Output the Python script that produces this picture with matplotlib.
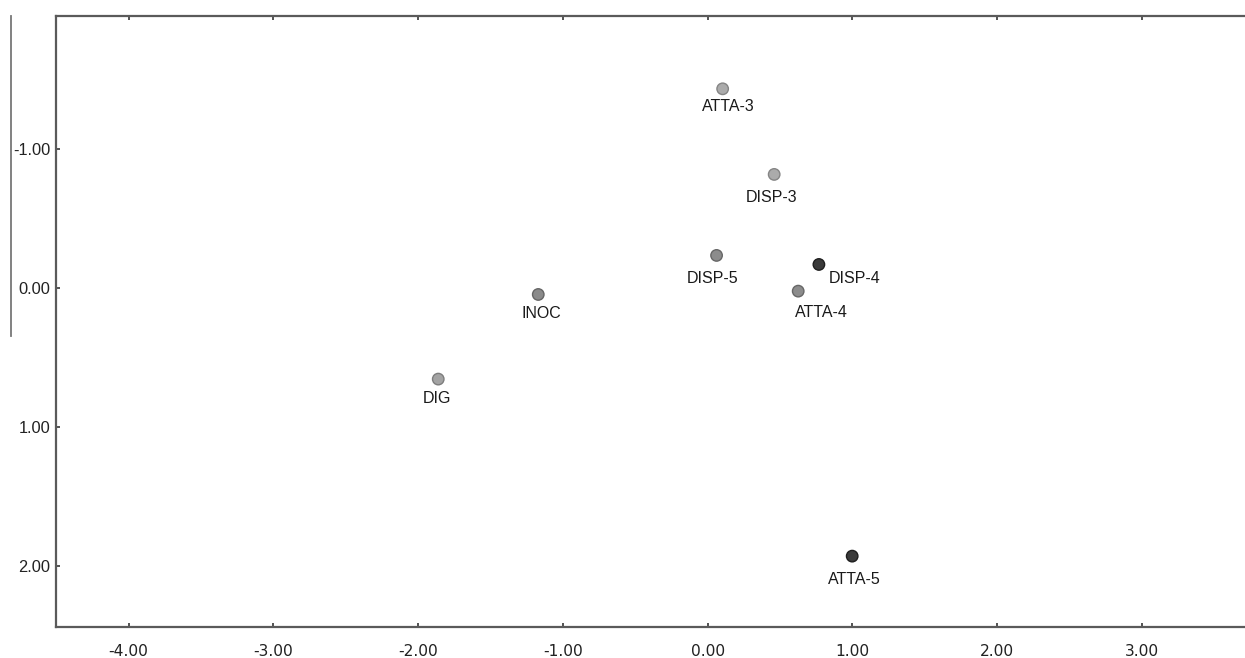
import matplotlib
matplotlib.use("Agg")
import matplotlib.pyplot as plt
from matplotlib.lines import Line2D

# Data
labels = ["ATTA-3", "DISP-3", "DISP-5", "DISP-4", "ATTA-4", "INOC", "DIG", "ATTA-5"]
dim1 = [0.104, 0.46, 0.062, 0.769, 0.626, -1.170, -1.861, 0.999]
dim2 = [-1.433, -0.817, -0.234, -0.169, 0.023, 0.047, 0.656, 1.93]
x_ticks = [-4.0, -3.0, -2.0, -1.0, 0.0, 1.0, 2.0, 3.0]
y_ticks = [-1.0, 0.0, 1.0, 2.0]

# Styles
fills = ["#ababab", "#ababab", "#8c8c8c", "#3a3a3a", "#8c8c8c", "#8a8a8a", "#a3a3a3", "#3a3a3a"]
edges = ["#858585", "#858585", "#676767", "#1e1e1e", "#676767", "#656565", "#7d7d7d", "#1e1e1e"]
offsets = [(6, -18), (-3, -23), (-4, -23), (36, -14), (23, -21), (3, -19), (-1, -19), (2, -23)]

W, H = 1245, 658
fig = plt.figure(figsize=(W / 100, H / 100), dpi=100)
fig.patch.set_facecolor("white")
left, right, top, bottom = 56, 1245, 16, 627
ax = fig.add_axes([left / W, 1 - bottom / H, (right - left) / W, (bottom - top) / H])

ax.scatter(dim1, dim2, s=68, c=fills, edgecolors=edges, linewidths=1.0, zorder=3)
for lab, x, y, (dx, dy) in zip(labels, dim1, dim2, offsets):
    ax.annotate(lab, (x, y), xytext=(dx, dy), textcoords="offset pixels",
                ha="center", va="center", fontsize=11.5, family="Liberation Sans",
                color="#1a1a1a")

ax.set_xlim(-4.502, 3.713)
ax.set_ylim(2.44, -1.957)
ax.set_xticks(x_ticks)
ax.set_yticks(y_ticks)
ax.set_xticklabels([f"{v:.2f}" for v in x_ticks], family="DejaVu Sans", fontsize=11.2, color="#222222")
ax.set_yticklabels([f"{v:.2f}" for v in y_ticks], family="Liberation Sans", fontsize=11.8, color="#222222")

for s in ["left", "bottom", "top"]:
    ax.spines[s].set_color("#5a5a5a")
    ax.spines[s].set_linewidth(1.6)
ax.spines["right"].set_visible(False)
ax.tick_params(axis="both", direction="in", length=3, width=1.3, color="#444444")
ax.tick_params(axis="x", top=True, pad=12)
ax.tick_params(axis="y", pad=4)

# stray vertical line at the far left of the original figure
fig.add_artist(Line2D([11 / W, 11 / W], [1 - 16 / H, 1 - 336 / H], color="#777777", lw=1.3))

fig.savefig("out.png", dpi=100, facecolor="white")
